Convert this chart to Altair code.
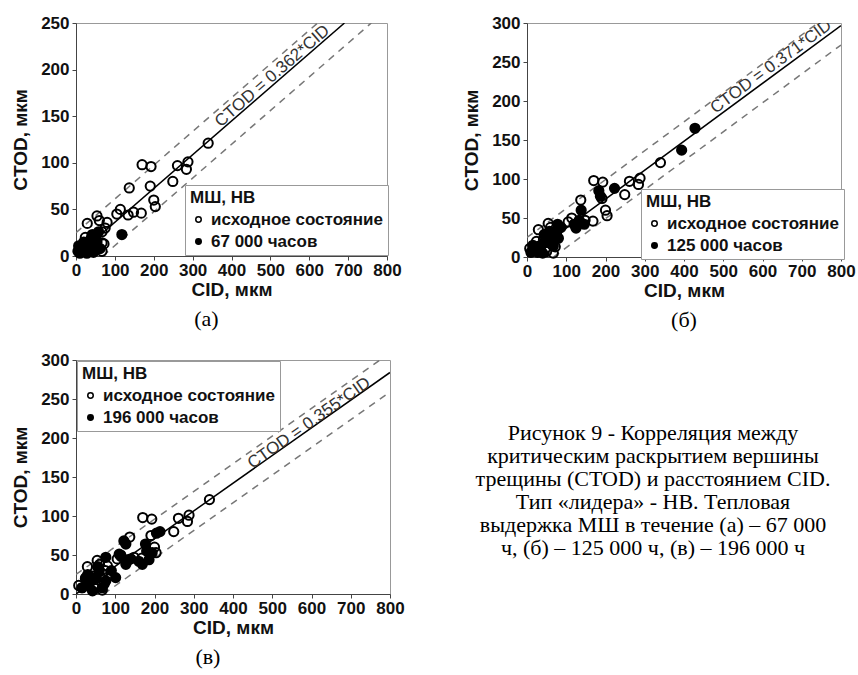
import math
import altair as alt
import pandas as pd

X_MAX = 800
BAND = 25  # half-width of the dashed scatter band, мкм

# исходное состояние (same in all three panels)
base_cid = [340, 288, 284, 261, 249, 193, 170, 191, 200, 204, 137, 148, 168, 114, 105, 134,
            80, 54, 29, 67, 50, 24, 67, 67, 50, 15, 7, 75, 42, 60, 72, 35]
base_ctod = [121, 101, 93, 97, 80, 96, 98, 75, 60, 53, 73, 47, 46, 50, 45, 44,
             36, 43, 35, 26, 20, 20, 14, 5, 7, 8, 11, 30, 23, 38, 13, 15]

# 67 000 часов
a_cid = [118, 58, 54, 41, 48, 30, 22, 15, 10, 25, 35, 62, 20, 8, 12, 45, 5, 28, 38]
a_ctod = [23, 26, 15, 22, 10, 10, 5, 8, 3, 12, 6, 8, 15, 10, 6, 4, 5, 3, 18]

# 125 000 часов
b_cid = [428, 394, 223, 183, 187, 138, 133, 125, 146, 87, 74, 70, 61, 48, 36, 19, 10, 27,
         44, 57, 78, 65, 15, 40, 120, 80]
b_ctod = [165, 137, 88, 85, 78, 60, 47, 37, 42, 38, 33, 29, 23, 21, 14, 10, 6, 6,
          29, 33, 42, 15, 15, 5, 42, 24]

# 196 000 часов
c_cid = [214, 177, 122, 127, 76, 110, 127, 101, 160, 169, 186, 194, 25, 33, 50, 59, 42, 67,
         76, 16, 180, 205, 140, 90, 55, 30, 115]
c_ctod = [80, 64, 68, 64, 47, 51, 38, 21, 42, 38, 44, 53, 21, 12, 21, 29, 4, 8,
          17, 8, 55, 78, 45, 30, 35, 25, 48]

slopes = [0.362, 0.371, 0.355]
y_max = [250, 300, 300]
series_names = ["67 000 часов", "125 000 часов", "196 000 часов"]
eq_pos = [(505, 193), (622, 244), (594, 219)]
captions = ["(а)", "(б)", "(в)"]

caption_lines = [
    "Рисунок 9 - Корреляция между",
    "критическим раскрытием вершины",
    "трещины (CTOD) и расстоянием CID.",
    "Тип «лидера» - НВ. Тепловая",
    "выдержка МШ в течение (а) – 67 000",
    "ч, (б) – 125 000 ч, (в) – 196 000 ч",
]

BASE_NAME = "исходное состояние"


def panel(k, cid, ctod, w, h, legend_xy, cap_frame):
    slope = slopes[k]
    ymax = y_max[k]
    pts = pd.DataFrame({
        "CID": base_cid + cid,
        "CTOD": base_ctod + ctod,
        "series": [BASE_NAME] * len(base_cid) + [series_names[k]] * len(cid),
    })
    x_end = min(X_MAX, ymax / slope)
    fit = pd.DataFrame({"CID": [0, x_end], "CTOD": [0, slope * x_end]})
    up_end = min(X_MAX, (ymax - BAND) / slope)
    upper = pd.DataFrame({"CID": [0, up_end], "CTOD": [BAND, slope * up_end + BAND]})
    lo_start = BAND / slope
    lo_end = min(X_MAX, (ymax + BAND) / slope)
    lower = pd.DataFrame({"CID": [lo_start, lo_end], "CTOD": [0, slope * lo_end - BAND]})

    xs = alt.Scale(domain=[0, X_MAX], nice=False, zero=True)
    ys = alt.Scale(domain=[0, ymax], nice=False, zero=True)
    xax = alt.Axis(title="CID, мкм", values=list(range(0, X_MAX + 1, 100)), tickSize=4,
                   labelPadding=2, titlePadding=2, labelFlush=False, labelOverlap=False)
    yax = alt.Axis(title="CTOD, мкм", values=list(range(0, ymax + 1, 50)), tickSize=4,
                   labelPadding=3, titlePadding=10, labelFlush=False, labelOverlap=False)
    X = alt.X("CID:Q", scale=xs, axis=xax)
    Y = alt.Y("CTOD:Q", scale=ys, axis=yax)

    solid = alt.Chart(fit).mark_line(color="black", strokeWidth=1.5, clip=True).encode(x=X, y=Y)
    dash_u = alt.Chart(upper).mark_line(color="#777", strokeWidth=1.5, strokeDash=[7, 6],
                                        clip=True).encode(x=X, y=Y)
    dash_l = alt.Chart(lower).mark_line(color="#777", strokeWidth=1.5, strokeDash=[7, 6],
                                        clip=True).encode(x=X, y=Y)

    ang = math.degrees(math.atan(slope * (h / ymax) / (w / X_MAX)))
    eq = pd.DataFrame({"CID": [eq_pos[k][0]], "CTOD": [eq_pos[k][1]],
                       "t": [f"CTOD = {slope:.3f}*CID"]})
    eq_txt = alt.Chart(eq).mark_text(angle=round(360 - ang, 1), font="Liberation Sans",
                                     fontSize=17, color="#333", clip=True).encode(
        x=X, y=Y, text="t:N")

    legend = alt.Legend(title="МШ, НВ", orient="none",
                        legendX=legend_xy[0], legendY=legend_xy[1],
                        strokeColor="#999", fillColor="white", padding=5,
                        titleFont="Liberation Sans", titleFontSize=17, titleFontWeight="bold",
                        titleColor="#111", titlePadding=4,
                        labelFont="Liberation Sans", labelFontSize=17, labelFontWeight="bold",
                        labelColor="#111", labelOffset=4, rowPadding=4, labelLimit=300,
                        symbolType="circle", symbolSize=30, symbolStrokeWidth=1.5,
                        symbolStrokeColor="black")
    points = alt.Chart(pts).mark_point(shape="circle", size=85, stroke="black",
                                       strokeWidth=2, opacity=1).encode(
        x=X, y=Y,
        fill=alt.Fill("series:N",
                      scale=alt.Scale(domain=[BASE_NAME, series_names[k]],
                                      range=["transparent", "black"]),
                      legend=legend),
    )
    return alt.layer(dash_u, dash_l, solid, points, eq_txt).properties(
        width=w, height=h,
        title=alt.TitleParams(text=captions[k], orient="bottom", font="Liberation Serif",
                              fontSize=22, fontWeight="normal", color="black", offset=10,
                              anchor="middle", frame=cap_frame),
    )


pa = panel(0, a_cid, a_ctod, 311, 233, (109, 162), "bounds")
pb = panel(1, b_cid, b_ctod, 314, 234, (114, 166), "group")
pc = panel(2, c_cid, c_ctod, 314, 234, (1, 1), "bounds")

CAP_H = 294
CAP_STEP = 23
CAP_TOP = 80
d0 = -CAP_TOP / CAP_STEP
d1 = d0 + CAP_H / CAP_STEP
cap_df = pd.DataFrame({"i": list(range(len(caption_lines))), "line": caption_lines})
caption = alt.Chart(cap_df).mark_text(font="Liberation Serif", fontSize=22, color="black",
                                      align="center", baseline="alphabetic", clip=True).encode(
    x=alt.value(232),
    y=alt.Y("i:Q", axis=None,
            scale=alt.Scale(domain=[d0, d1], reverse=True, nice=False, zero=False)),
    text="line:N",
).properties(width=436, height=CAP_H, view=alt.ViewBackground(stroke="transparent"))

row1 = alt.hconcat(pa, pb, spacing=60).resolve_scale(fill="independent").resolve_legend(
    fill="independent")
row2 = alt.hconcat(pc, caption, spacing=15).resolve_scale(fill="independent").resolve_legend(
    fill="independent")
chart = alt.vconcat(row1, row2, spacing=18).resolve_scale(fill="independent").resolve_legend(
    fill="independent").properties(
    padding={"left": 11, "top": 13, "right": 0, "bottom": 0}
).configure_axis(
    labelFont="Liberation Sans", labelFontSize=17, labelFontWeight="bold", labelColor="#111",
    titleFont="Liberation Sans", titleFontSize=19, titleFontWeight="bold", titleColor="#111",
    domainColor="#444", tickColor="#444", grid=False,
).configure_view(stroke="#999")

chart.save("out.html", embed_options={"renderer": "svg", "actions": False})
